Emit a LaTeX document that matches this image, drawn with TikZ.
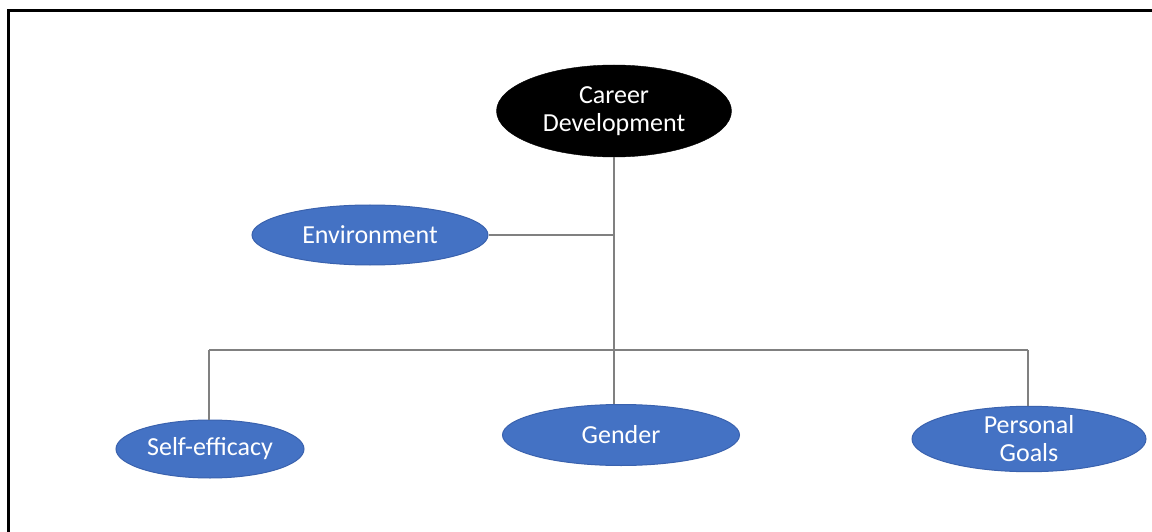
\documentclass[tikz,border=0pt]{standalone}
\usepackage{fontspec}
\setmainfont{Carlito}
\usetikzlibrary{shapes.geometric}
\definecolor{nodeblue}{HTML}{4472C4}
\definecolor{nodeedge}{HTML}{3A62AE}
\definecolor{linegray}{HTML}{808080}
\tikzset{
  bubble/.style={ellipse, fill=nodeblue, draw=nodeedge, line width=1pt, inner sep=0pt,
    text=white, align=center, font=\fontsize{26}{28}\selectfont},
  topbubble/.style={ellipse, fill=black, draw=black, inner sep=0pt,
    text=white, align=center, font=\fontsize{26}{28}\selectfont},
  conn/.style={draw=linegray, line width=1.6pt},
  frameline/.style={draw=black, line width=3pt}
}
\begin{document}
\begin{tikzpicture}[x=1pt,y=-1pt]
\useasboundingbox (0,0) rectangle (1152,532);
\fill[white] (0,0) rectangle (1152,532);
\draw[frameline] (8,540) -- (8,11) -- (1160,11);

\node[topbubble, minimum width=235, minimum height=92] (cd) at (614,111) {Career\\Development};
\node[bubble, minimum width=236, minimum height=60] (env) at (370,235) {Environment};
\node[bubble, minimum width=188, minimum height=58] (se) at (210,449) {Self-efficacy};
\node[bubble, minimum width=237, minimum height=61] (gen) at (621,435) {Gender};
\node[bubble, minimum width=234, minimum height=64] (pg) at (1029,439) {Personal\\Goals};

\coordinate (jn) at (614,350);
\coordinate (bl) at (209,350);
\coordinate (br) at (1028,350);

\draw[conn] (cd.south) -- (jn);
\draw[conn] (env.east) -- (env.east -| cd.south);
\draw[conn] (bl) -- (br);
\draw[conn] (bl) -- (bl |- se.north);
\draw[conn] (jn) -- (jn |- gen.north);
\draw[conn] (br) -- (br |- pg.north);
\end{tikzpicture}
\end{document}
